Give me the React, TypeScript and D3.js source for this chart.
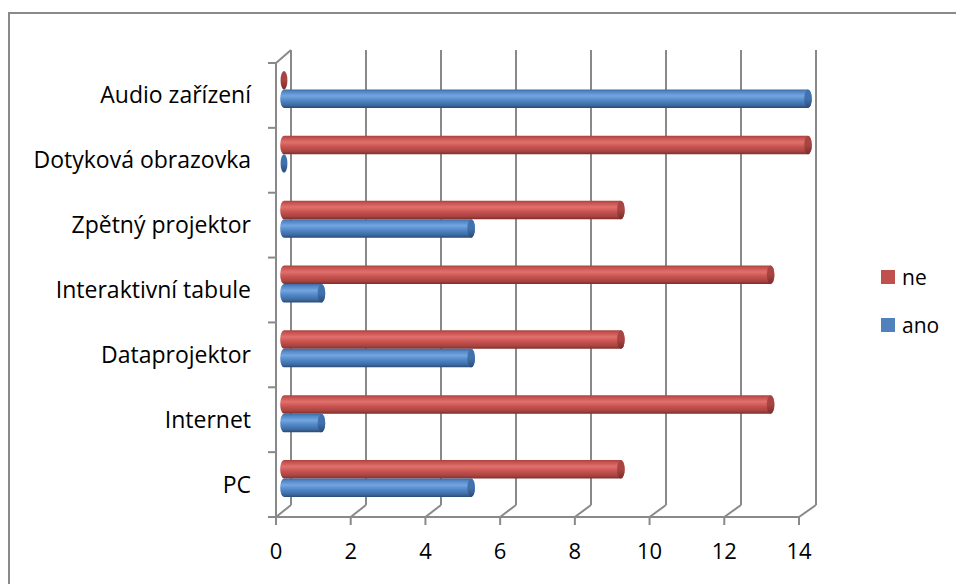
import React from "react";
import * as d3 from "d3";

// Categories listed bottom to top as they appear along the vertical axis
const categories = [
  "PC",
  "Internet",
  "Dataprojektor",
  "Interaktivní tabule",
  "Zpětný projektor",
  "Dotyková obrazovka",
  "Audio zařízení",
];
const seriesNames = ["ne", "ano"];
const neValues = [9, 13, 9, 13, 9, 14, 0];
const anoValues = [5, 1, 5, 1, 5, 0, 14];
const xTicks = [0, 2, 4, 6, 8, 10, 12, 14];

const W = 956;
const H = 584;
const FONT = "'Open Sans', 'Noto Sans', 'Liberation Sans', sans-serif";

// 3D box geometry (front plane and back wall)
const frontLeft = 276;
const frontRight = 799;
const backLeft = 291;
const backRight = 816;
const floorFront = 517;
const floorBack = 505;
const wallTopFront = 63;
const wallTopBack = 50;
const depthShift = 6; // bars sit halfway into the depth

const gridColor = "#898989";

const palette: Record<string, { swatch: string; light: string; mid: string; dark: string; edge: string; cap: string; capDark: string }> = {
  ne: { swatch: "#c0504d", light: "#e0716d", mid: "#c8524f", dark: "#7e2d2b", edge: "#a64441", cap: "#a84542", capDark: "#7a2c2a" },
  ano: { swatch: "#4f81bd", light: "#74a5e0", mid: "#5087c6", dark: "#2a4a74", edge: "#3d6aa2", cap: "#4272ad", capDark: "#2b4b78" },
};

export default function App() {
  const xFront = d3.scaleLinear().domain([0, 14]).range([frontLeft, frontRight]);
  const xBack = d3.scaleLinear().domain([0, 14]).range([backLeft, backRight]);
  const xBar = d3.scaleLinear().domain([0, 14]).range([284, 808]);

  const yBand = d3
    .scaleBand<string>()
    .domain(categories.slice().reverse())
    .range([wallTopFront, floorFront])
    .paddingInner(0)
    .paddingOuter(0);

  const barH = 18.5;
  const ySeries = d3
    .scaleBand<string>()
    .domain(seriesNames)
    .range([0, barH * 2]);

  const rx = 3.8;

  const valuesBySeries: Record<string, number[]> = { ne: neValues, ano: anoValues };

  const bars: React.ReactNode[] = [];
  categories.forEach((cat, i) => {
    const bandTop = yBand(cat)!;
    const center = bandTop + yBand.bandwidth() / 2 - depthShift;
    seriesNames.forEach((s) => {
      const v = valuesBySeries[s][i];
      const yt = center - barH + ySeries(s)!;
      const yb = yt + ySeries.bandwidth();
      const ry = (yb - yt) / 2;
      const x0 = xBar(0);
      const xe = xBar(v);
      const key = `${cat}-${s}`;
      if (v <= 0) {
        bars.push(
          <ellipse key={key} cx={x0} cy={yt + ry} rx={rx * 0.9} ry={ry} fill={`url(#cap-${s})`} />
        );
        return;
      }
      const body = `M${x0},${yt} L${xe},${yt} A${rx},${ry} 0 0 1 ${xe},${yb} L${x0},${yb} A${rx},${ry} 0 0 1 ${x0},${yt} Z`;
      bars.push(
        <g key={key}>
          <path d={body} fill={`url(#body-${s})`} />
          <ellipse cx={xe} cy={yt + ry} rx={rx} ry={ry} fill={`url(#cap-${s})`} />
        </g>
      );
    });
  });

  const catBoundaries = d3.range(categories.length + 1).map((k) => wallTopFront + k * yBand.step());

  return (
    <div style={{ position: "absolute", left: 0, top: 0, width: W, height: H, background: "#fff" }}>
      <svg width={W} height={H} style={{ display: "block" }}>
        <defs>
          {seriesNames.map((s) => (
            <React.Fragment key={s}>
              <linearGradient id={`body-${s}`} x1="0" y1="0" x2="0" y2="1">
                <stop offset="0" stopColor={palette[s].edge} />
                <stop offset="0.12" stopColor={palette[s].mid} />
                <stop offset="0.35" stopColor={palette[s].light} />
                <stop offset="0.6" stopColor={palette[s].mid} />
                <stop offset="0.85" stopColor={palette[s].edge} />
                <stop offset="1" stopColor={palette[s].dark} />
              </linearGradient>
              <linearGradient id={`cap-${s}`} x1="0" y1="0" x2="0" y2="1">
                <stop offset="0" stopColor={palette[s].cap} />
                <stop offset="0.5" stopColor={palette[s].cap} />
                <stop offset="1" stopColor={palette[s].capDark} />
              </linearGradient>
            </React.Fragment>
          ))}
        </defs>

        {/* chart area frame */}
        <rect x={9} y={13} width={W + 10} height={H + 10} fill="#fff" stroke="#8a8a8a" strokeWidth={2} />

        {/* back wall vertical gridlines and floor connectors */}
        {xTicks.map((t) => (
          <g key={`g${t}`}>
            <line x1={xBack(t)} y1={wallTopBack} x2={xBack(t)} y2={floorBack} stroke={gridColor} strokeWidth={2} />
            <line x1={xBack(t)} y1={floorBack} x2={xFront(t)} y2={floorFront} stroke={gridColor} strokeWidth={2} />
            <line x1={xFront(t)} y1={floorFront} x2={xFront(t)} y2={floorFront + 8} stroke={gridColor} strokeWidth={2} />
          </g>
        ))}

        {/* side wall */}
        <line x1={frontLeft} y1={wallTopFront} x2={frontLeft} y2={floorFront} stroke={gridColor} strokeWidth={2} />
        <line x1={frontLeft} y1={wallTopFront} x2={backLeft} y2={wallTopBack} stroke={gridColor} strokeWidth={2} />
        {catBoundaries.map((y, k) => (
          <line key={`t${k}`} x1={frontLeft - 8} y1={y} x2={frontLeft} y2={y} stroke={gridColor} strokeWidth={2} />
        ))}

        {/* floor front edge */}
        <line x1={frontLeft} y1={floorFront} x2={frontRight} y2={floorFront} stroke={gridColor} strokeWidth={2} />

        {bars}

        {/* category labels */}
        {categories.map((cat) => (
          <text
            key={`l-${cat}`}
            x={251}
            y={yBand(cat)! + yBand.bandwidth() / 2 + 8}
            textAnchor="end"
            fontFamily={FONT}
            fontSize={23}
            fill="#000"
          >
            {cat}
          </text>
        ))}

        {/* value axis labels */}
        {xTicks.map((t) => (
          <text key={`x${t}`} x={xFront(t)} y={559} textAnchor="middle" fontFamily={FONT} fontSize={22} fill="#000">
            {t}
          </text>
        ))}

        {/* legend */}
        {seriesNames.map((s, k) => (
          <g key={`lg${s}`} transform={`translate(881, ${270 + k * 48})`}>
            <rect x={0} y={0} width={14} height={14} fill={palette[s].swatch} />
            <text x={21} y={15} fontFamily={FONT} fontSize={21} fill="#000">
              {s}
            </text>
          </g>
        ))}
      </svg>
    </div>
  );
}
